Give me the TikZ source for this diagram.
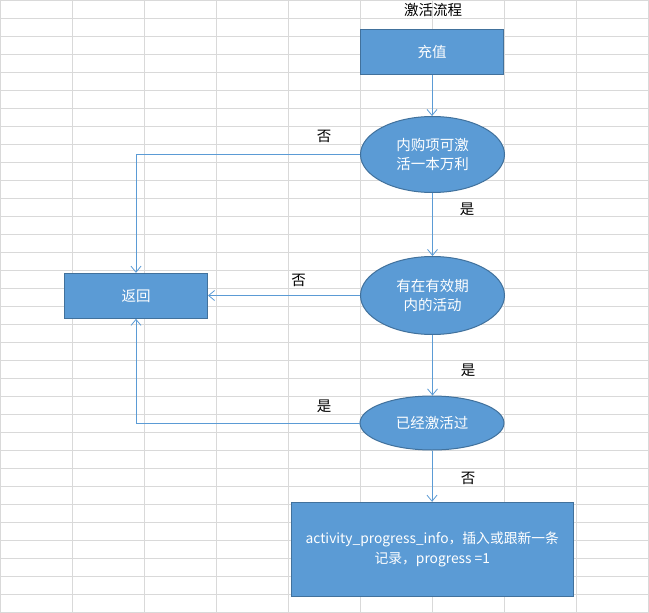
\documentclass[tikz,border=0pt]{standalone}
\usepackage{fontspec}
\newfontfamily\cjk{Noto Sans CJK SC}
\usetikzlibrary{shapes.geometric,arrows.meta}
\definecolor{boxfill}{HTML}{5B9BD5}
\definecolor{boxline}{HTML}{41719C}
\definecolor{conn}{HTML}{5B9BD5}
\definecolor{gridc}{HTML}{D9D9D9}
\begin{document}
\begin{tikzpicture}[x=1pt,y=-1pt,
  every node/.style={font=\cjk\fontsize{14.5}{18.5}\selectfont},
  procbox/.style={draw=boxline,fill=boxfill,text=white,line width=1pt,inner sep=0pt,align=center},
  decide/.style={ellipse,draw=boxline,fill=boxfill,text=white,line width=1pt,inner sep=0pt,align=center,minimum width=144,minimum height=76},
  conn/.style={draw=conn,line width=1pt,-{Straight Barb[length=6pt,width=10pt,line width=0.8pt]}},
  lbl/.style={text=black,inner sep=0pt}]
\useasboundingbox (0,0) rectangle (649,613);
\fill[white] (0,0) rectangle (649,613);
% spreadsheet grid
\foreach \i in {0,...,9} {\draw[gridc,line width=1pt] (0.6+72*\i,0) -- (0.6+72*\i,613);}
\foreach \j in {0,...,34} {\draw[gridc,line width=1pt] (0,0.4+18*\j) -- (649,0.4+18*\j);}
% title
\node[lbl] (title) at (433,10) {激活流程};
% nodes
\node[procbox,minimum width=143,minimum height=45] (charge) at (432,51.5) {充值};
\node[decide] (e1) at (432.5,154.5) {内购项可激\\活一本万利};
\node[decide,minimum height=78] (e2) at (432.5,295.5) {有在有效期\\内的活动};
\node[decide,minimum height=54] (e3) at (432,423) {已经激活过};
\node[procbox,minimum width=143,minimum height=45] (ret) at (136,295.8) {返回};
\node[procbox,minimum width=282,minimum height=94,font=\cjk\fontsize{13.8}{19.5}\selectfont] (rec) at (432.3,549.3) {activity\_progress\_info，插入或跟新一条\\记录，progress =1};
% connectors
\draw[conn] (charge.south) -- (charge.south |- e1.north);
\draw[conn] (e1.south) -- (e1.south |- e2.north);
\draw[conn] (e2.south) -- (e2.south |- e3.north);
\draw[conn] (e3.south) -- (e3.south |- rec.north);
\draw[conn] (e1.west) -| (ret.north);
\draw[conn] (e2.west) -- (ret.east |- e2.west);
\draw[conn] (e3.west) -| (ret.south);
% labels
\node[lbl] (l1) at (324,136) {否};
\node[lbl] (l2) at (467,209) {是};
\node[lbl] (l3) at (298.5,280) {否};
\node[lbl] (l4) at (468,370.5) {是};
\node[lbl] (l5) at (324,406.5) {是};
\node[lbl] (l6) at (468,478.5) {否};
\end{tikzpicture}
\end{document}
